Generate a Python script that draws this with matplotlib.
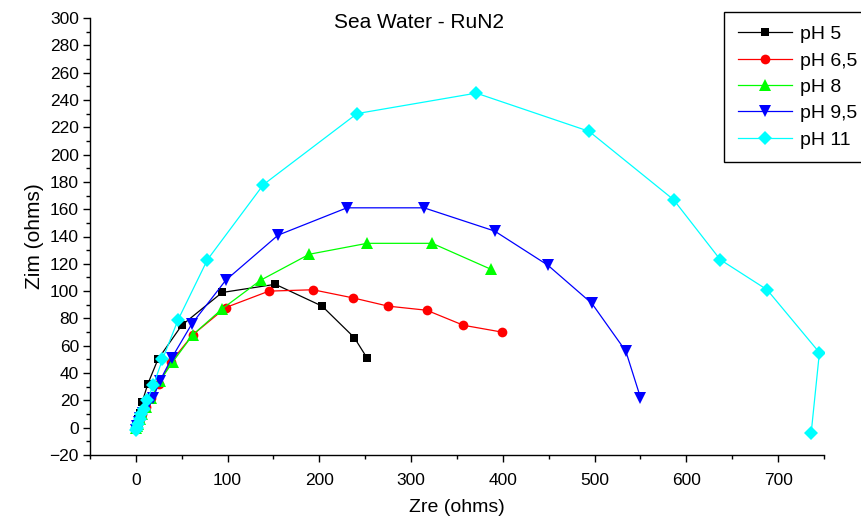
import matplotlib
matplotlib.use("Agg")
import matplotlib.pyplot as plt
from matplotlib.ticker import MultipleLocator

plt.rcParams['font.family'] = ['Liberation Sans', 'DejaVu Sans']

# Impedance data (Nyquist), one pair of arrays per pH
labels = ['pH 5', 'pH 6,5', 'pH 8', 'pH 9,5', 'pH 11']

zre_ph5 = [0, 0.5, 1, 2, 4, 7, 13, 24, 50, 94, 152, 203, 238, 252]
zim_ph5 = [0, 1, 3, 6, 11, 19, 32, 50, 75, 99, 105, 89, 66, 51]

zre_ph65 = [0, 1, 2, 4, 7, 11, 17, 25, 38, 62, 98, 145, 193, 237, 275, 317, 357, 399]
zim_ph65 = [0, 1, 3, 6, 10, 15, 22, 32, 48, 68, 88, 100, 101, 95, 89, 86, 75, 70]

zre_ph8 = [0, 1, 2, 4, 7, 11, 17, 26, 40, 62, 94, 136, 189, 252, 323, 387]
zim_ph8 = [0, 1, 3, 6, 10, 15, 22, 34, 48, 68, 87, 108, 127, 135, 135, 116]

zre_ph95 = [0, 1, 3, 5, 8, 12, 19, 26, 39, 61, 98, 155, 230, 314, 391, 449, 497, 534, 550]
zim_ph95 = [-2, 1, 4, 7, 11, 16, 22, 34, 51, 76, 108, 141, 161, 161, 144, 119, 91, 56, 22]

zre_ph11 = [0, 1, 2, 4, 6, 9, 12, 19, 29, 46, 78, 139, 241, 371, 494, 586, 637, 688, 745, 736]
zim_ph11 = [-2, 0, 3, 6, 10, 14, 20, 31, 50, 79, 123, 178, 230, 245, 217, 167, 123, 101, 55, -4]

series = [(zre_ph5, zim_ph5), (zre_ph65, zim_ph65), (zre_ph8, zim_ph8),
          (zre_ph95, zim_ph95), (zre_ph11, zim_ph11)]
colors = ['#000000', '#ff0000', '#00ff00', '#0000ff', '#00ffff']
markers = ['s', 'o', '^', 'v', 'D']
msizes = [6, 7, 8.5, 8.5, 7]

fig = plt.figure(figsize=(8.62, 5.27), dpi=100)
ax = fig.add_axes([90 / 862, 1 - 455 / 527, 734 / 862, 437 / 527])

for (x, y), lab, c, m, ms in zip(series, labels, colors, markers, msizes):
    ax.plot(x, y, color=c, marker=m, markersize=ms, markeredgewidth=0,
            linewidth=0.9, label=lab)

ax.set_xlim(-50, 750)
ax.set_ylim(-20, 300)
ax.xaxis.set_major_locator(MultipleLocator(100))
ax.xaxis.set_minor_locator(MultipleLocator(50))
ax.yaxis.set_major_locator(MultipleLocator(20))
ax.yaxis.set_minor_locator(MultipleLocator(10))

ax.spines['top'].set_visible(False)
ax.spines['right'].set_visible(False)
for s in ('left', 'bottom'):
    ax.spines[s].set_linewidth(1.0)
ax.tick_params(which='major', direction='out', length=5, width=1.0,
               labelsize=12.5, pad=3)
ax.tick_params(which='minor', direction='out', length=3, width=1.0)
ax.tick_params(axis='x', which='major', pad=8)

ax.set_xlabel('Zre (ohms)', fontsize=14, labelpad=8)
ax.set_ylabel('Zim (ohms)', fontsize=15, labelpad=4)
ax.text(0.448, 0.989, 'Sea Water - RuN2', transform=ax.transAxes,
        ha='center', va='center', fontsize=15)

# legend box runs to the right edge of the figure
leg = ax.legend(loc='upper left', bbox_to_anchor=(724 / 862, 1 - 12 / 527),
                bbox_transform=fig.transFigure, borderaxespad=0,
                fontsize=14, handlelength=2.8, handletextpad=0.4,
                labelspacing=0.45, borderpad=0.7, fancybox=False,
                framealpha=1, edgecolor='black')
leg.get_frame().set_linewidth(1.0)

fig.savefig('out.png', dpi=100)
